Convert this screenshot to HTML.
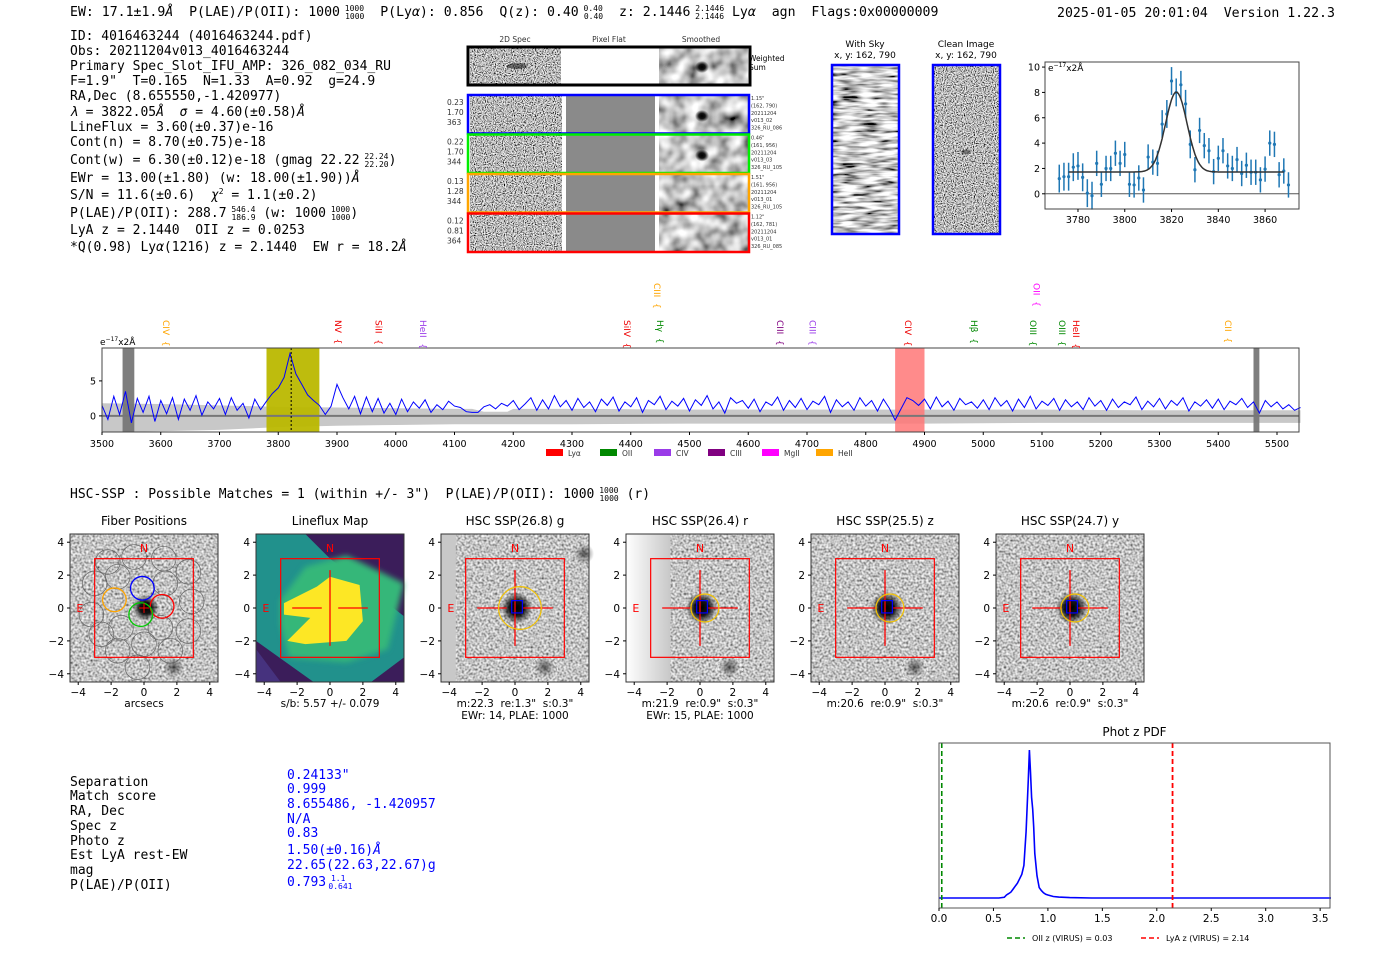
<!DOCTYPE html>
<html><head><meta charset="utf-8"><title>Detection report</title>
<style>
html,body{margin:0;padding:0;background:#fff;}
svg{display:block;}
text{white-space:pre;}
.mono{font-family:"DejaVu Sans Mono","Liberation Mono",monospace;}
.sans{font-family:"DejaVu Sans","Liberation Sans",sans-serif;}
</style></head>
<body>
<svg id="root" xmlns="http://www.w3.org/2000/svg" xml:space="preserve" width="1400" height="953" viewBox="0 0 1400 953">
<defs>
<filter id="nz" x="0" y="0" width="100%" height="100%"><feTurbulence type="fractalNoise" baseFrequency="0.9" numOctaves="1" seed="3"/><feColorMatrix type="matrix" values="2.6 0 0 0 -0.8  2.6 0 0 0 -0.8  2.6 0 0 0 -0.8  0 0 0 0 1"/></filter>
<filter id="nzl" x="0" y="0" width="100%" height="100%"><feTurbulence type="fractalNoise" baseFrequency="0.45" numOctaves="1" seed="7"/><feColorMatrix type="matrix" values="1.5 0 0 0 -0.2  1.5 0 0 0 -0.2  1.5 0 0 0 -0.2  0 0 0 0 1"/></filter>
<filter id="nzs" x="0" y="0" width="100%" height="100%"><feTurbulence type="fractalNoise" baseFrequency="0.07" numOctaves="2" seed="5"/><feColorMatrix type="matrix" values="1.6 0 0 0 -0.25  1.6 0 0 0 -0.25  1.6 0 0 0 -0.25  0 0 0 0 1"/></filter>
<filter id="nzsky" x="0" y="0" width="100%" height="100%"><feTurbulence type="fractalNoise" baseFrequency="0.05 0.3" numOctaves="2" seed="2"/><feColorMatrix type="matrix" values="2.4 0 0 0 -0.6  2.4 0 0 0 -0.6  2.4 0 0 0 -0.6  0 0 0 0 1"/></filter>
<filter id="blur3"><feGaussianBlur stdDeviation="3"/></filter>
<radialGradient id="blob"><stop offset="0" stop-color="#000"/><stop offset="0.45" stop-color="#000" stop-opacity="0.9"/><stop offset="1" stop-color="#000" stop-opacity="0"/></radialGradient>
<radialGradient id="blobs"><stop offset="0" stop-color="#222" stop-opacity="0.7"/><stop offset="1" stop-color="#222" stop-opacity="0"/></radialGradient>
<linearGradient id="edgeg" x1="0" x2="1"><stop offset="0" stop-color="#fff"/><stop offset="1" stop-color="#c8c8c8"/></linearGradient>
</defs>

<!-- Header -->
<text class="mono" x="70" y="16" font-size="13.2">EW: 17.1±1.9<tspan font-style="italic">Å</tspan>  P(LAE)/P(OII): 1000<tspan font-size="8" dy="-5"> 1000</tspan><tspan font-size="8" dx="-19" dy="8">1000</tspan><tspan dy="-3">  P(Ly</tspan><tspan font-style="italic">α</tspan>): 0.856  Q(z): 0.40<tspan font-size="8" dy="-5"> 0.40</tspan><tspan font-size="8" dx="-19" dy="8">0.40</tspan><tspan dy="-3">  z: 2.1446</tspan><tspan font-size="8" dy="-5"> 2.1446</tspan><tspan font-size="8" dx="-29" dy="8">2.1446</tspan><tspan dy="-3"> Ly</tspan><tspan font-style="italic">α</tspan>  agn  Flags:0x00000009</text>
<text class="mono" x="1057" y="17" font-size="13.2">2025-01-05 20:01:04  Version 1.22.3</text>

<!-- Left info block -->
<g class="mono" font-size="13">
<text x="70" y="40">ID: 4016463244 (4016463244.pdf)</text>
<text x="70" y="55">Obs: 20211204v013_4016463244</text>
<text x="70" y="70">Primary Spec_Slot_IFU_AMP: 326_082_034_RU</text>
<text x="70" y="85">F=1.9"  T=0.165  N=1.33  A=0.92  g=24.9</text>
<text x="70" y="100">RA,Dec (8.655550,-1.420977)</text>
<text x="70" y="116"><tspan font-style="italic">λ</tspan> = 3822.05<tspan font-style="italic">Å</tspan>  <tspan font-style="italic">σ</tspan> = 4.60(±0.58)<tspan font-style="italic">Å</tspan></text>
<text x="70" y="131">LineFlux = 3.60(±0.37)e-16</text>
<text x="70" y="146">Cont(n) = 8.70(±0.75)e-18</text>
<text x="70" y="164">Cont(w) = 6.30(±0.12)e-18 (gmag 22.22<tspan font-size="8" dy="-5"> 22.24</tspan><tspan font-size="8" dx="-24" dy="8">22.20</tspan><tspan dy="-3">)</tspan></text>
<text x="70" y="182">EWr = 13.00(±1.80) (w: 18.00(±1.90))<tspan font-style="italic">Å</tspan></text>
<text x="70" y="199">S/N = 11.6(±0.6)  <tspan font-style="italic">χ</tspan><tspan font-size="8" dy="-5">2</tspan><tspan dy="5"> = 1.1(±0.2)</tspan></text>
<text x="70" y="217">P(LAE)/P(OII): 288.7<tspan font-size="8" dy="-5"> 546.4</tspan><tspan font-size="8" dx="-24" dy="8">186.9</tspan><tspan dy="-3"> (w: 1000</tspan><tspan font-size="8" dy="-5"> 1000</tspan><tspan font-size="8" dx="-19" dy="8">1000</tspan><tspan dy="-3">)</tspan></text>
<text x="70" y="234">LyA z = 2.1440  OII z = 0.0253</text>
<text x="70" y="251">*Q(0.98) Ly<tspan font-style="italic">α</tspan>(1216) z = 2.1440  EW r = 18.2<tspan font-style="italic">Å</tspan></text>
</g>

<!-- 2D spectra -->
<g id="spec2d" class="sans">
<text x="515" y="42" font-size="7.5" text-anchor="middle" fill="#333">2D Spec</text>
<text x="609" y="42" font-size="7.5" text-anchor="middle" fill="#333">Pixel Flat</text>
<text x="701" y="42" font-size="7.5" text-anchor="middle" fill="#333">Smoothed</text>
<rect x="470" y="48" width="91" height="36" filter="url(#nz)"/>
<rect x="659" y="48" width="89" height="36" filter="url(#nzs)"/>
<ellipse cx="517" cy="66" rx="10" ry="3" fill="#000" opacity="0.5"/>
<ellipse cx="702" cy="67" rx="7" ry="6" fill="url(#blob)"/>
<rect x="468" y="47" width="282" height="38" fill="none" stroke="#000" stroke-width="3"/>
<text x="749" y="61" font-size="7.5">Weighted</text><text x="749" y="70" font-size="7.5">Sum</text>
</g>

<!-- Sky / clean -->
<g class="sans">
<text x="865" y="47" font-size="9" text-anchor="middle">With Sky</text>
<text x="865" y="58" font-size="9" text-anchor="middle">x, y: 162, 790</text>
<rect x="833" y="66" width="66" height="167" filter="url(#nzsky)"/>
<rect x="832" y="65" width="67" height="169" fill="none" stroke="#00f" stroke-width="2.5"/>
<text x="966" y="47" font-size="9" text-anchor="middle">Clean Image</text>
<text x="966" y="58" font-size="9" text-anchor="middle">x, y: 162, 790</text>
<rect x="934" y="66" width="66" height="167" filter="url(#nz)"/>
<ellipse cx="966" cy="152" rx="5" ry="2.5" fill="#000" opacity="0.4"/>
<rect x="933" y="65" width="67" height="169" fill="none" stroke="#00f" stroke-width="2.5"/>
</g>

<g id="gfit"></g>
<g id="spec"></g>

<text class="mono" x="70" y="498" font-size="13">HSC-SSP : Possible Matches = 1 (within +/- 3")  P(LAE)/P(OII): 1000<tspan font-size="8" dy="-5"> 1000</tspan><tspan font-size="8" dx="-19" dy="8">1000</tspan><tspan dy="-3"> (r)</tspan></text>

<g id="cutouts"></g>

<!-- Bottom table -->
<g class="mono" font-size="13">
<text x="70" y="786">Separation</text><text x="70" y="800">Match score</text><text x="70" y="815">RA, Dec</text><text x="70" y="830">Spec z</text><text x="70" y="845">Photo z</text><text x="70" y="859">Est LyA rest-EW</text><text x="70" y="874">mag</text><text x="70" y="889">P(LAE)/P(OII)</text>
<g fill="#00f">
<text x="287" y="779">0.24133"</text><text x="287" y="793">0.999</text><text x="287" y="808">8.655486, -1.420957</text><text x="287" y="823">N/A</text><text x="287" y="837">0.83</text><text x="287" y="854">1.50(±0.16)<tspan font-style="italic">Å</tspan></text><text x="287" y="869">22.65(22.63,22.67)g</text><text x="287" y="886">0.793<tspan font-size="8" dy="-5"> 1.1</tspan><tspan font-size="8" dx="-17" dy="8">0.641</tspan></text>
</g></g>

<g id="pdf"></g>

<script>
// ---------- data ----------
const fitWave=[3772,3774,3776,3778,3780,3782,3784,3786,3788,3790,3792,3794,3796,3798,3800,3802,3804,3806,3808,3810,3812,3814,3816,3818,3820,3822,3824,3826,3828,3830,3832,3834,3836,3838,3840,3842,3844,3846,3848,3850,3852,3854,3856,3858,3860,3862,3864,3866,3868,3870];
const fitFlux=[1.2,1.35,1.35,2.1,2.2,1.3,0.05,-0.15,2.4,0.75,2.0,2.0,3.2,2.4,3.1,0.75,0.7,1.25,0.3,2.9,2.5,2.4,5.5,6.3,8.9,8.0,8.6,7.1,3.9,1.9,5.0,3.8,3.4,1.75,2.8,3.4,2.2,2.0,2.7,1.6,2.25,1.7,1.7,1.1,1.95,4.0,3.9,1.5,1.8,0.7];
const fitErr=[1.1,1.1,1.1,1.1,1.1,1.1,1.1,1.1,1.0,1.0,1.0,1.0,1.0,1.0,1.0,1.0,1.0,1.0,1.0,1.0,1.0,1.0,1.1,1.1,1.1,1.1,1.1,1.1,1.1,1.0,1.0,1.0,1.0,1.0,1.0,1.0,1.0,1.0,1.0,1.0,1.0,1.0,1.0,1.0,1.0,1.0,1.0,1.0,1.0,1.0];
const fitParams=[3822.05,4.6,6.3,1.72]; // mu, sigma, amplitude, continuum
const fitTicksX=[3780,3800,3820,3840,3860];
const fitTicksY=[0,2,4,6,8,10];

const specStart=3500, specStep=10;
const specFlux=[1.5,-0.5,2.8,0.2,3.5,-1,2.5,0.5,2.8,-0.8,
2.2,0.3,2.6,-0.5,2.4,0.8,2.9,0.1,2.0,1.0,
2.5,0.2,2.6,0.8,1.8,-0.3,2.4,0.9,2.1,3.2,
4.0,5.5,8.9,6.0,4.5,3.0,2.2,1.5,0.2,1.4,
4.5,2.6,1.0,2.8,0.3,2.7,0.6,2.5,0.4,1.8,
0.2,2.4,0.6,2.0,1.1,2.3,0.5,1.6,0.9,2.1,
1.4,1.2,0.6,0.5,0.5,1.3,1.6,1.0,1.8,1.4,
2.2,0.9,1.7,2.6,0.8,2.3,1.0,2.9,1.3,2.2,
0.8,2.5,1.2,2.0,0.6,2.4,1.5,2.7,0.7,2.0,
1.3,2.6,0.5,2.2,1.6,2.8,0.9,2.1,1.4,2.5,
0.7,2.3,1.5,2.9,1.0,2.0,0.4,2.6,1.8,2.2,
1.1,2.4,0.6,2.0,1.5,2.7,0.8,2.2,1.2,2.5,
0.9,2.1,1.6,2.8,0.5,2.3,1.3,2.0,0.8,2.6,
1.4,2.2,0.7,2.4,1.1,-0.6,1.0,2.6,2.2,1.5,
2.4,1.0,2.7,1.3,2.1,0.8,2.5,1.6,2.0,1.1,
2.3,0.9,2.6,1.4,2.2,0.7,2.4,1.2,2.8,1.0,
2.1,1.5,2.5,0.8,2.3,1.3,2.0,0.9,2.6,1.4,
2.2,0.8,2.4,1.2,2.0,1.6,2.7,0.9,2.1,1.3,
2.5,1.0,2.2,1.5,2.6,0.7,2.0,1.4,2.3,1.1,
2.4,0.9,2.1,1.6,2.5,1.2,2.0,0.4,2.2,1.3,
2.0,1.0,1.6,0.8,1.2];
const errWave=[3500,3600,3700,3800,3900,4000,4100,4130,4150,4190,4200,4300,4500,4700,4900,5100,5300,5500,5540];
const errHi=[1.8,1.7,1.5,1.3,1.2,1.1,1.0,1.0,0.6,0.6,1.0,1.0,0.9,0.9,0.9,0.9,0.8,0.8,0.8];
const errLo=[-2.3,-2.2,-2.0,-1.6,-1.4,-1.3,-1.2,-1.2,-1.2,-1.2,-1.2,-1.2,-1.1,-1.1,-1.1,-1.0,-1.0,-1.0,-1.0];
const specTicksX=[3500,3600,3700,3800,3900,4000,4100,4200,4300,4400,4500,4600,4700,4800,4900,5000,5100,5200,5300,5400,5500];
const specTicksY=[0,5];
const lineNames=["CIV","NV","SiII","HeII","SiIV","CIII","Hγ","CIII","CIII","CIV","Hβ","OIII","OII","OIII","HeII","CII"];
const lineWave=[3609,3902,3971,4046,4394,4445,4450,4654,4709,4872,4984,5085,5091,5134,5158,5417];
const lineColor=["#ffa500","#e00","#e00","#9a3be8","#e00","#ffa500","#080","#800080","#9a3be8","#e00","#080","#080","#f0f","#080","#e00","#ffa500"];
const lineHigh=[0,0,0,0,0,1,0,0,0,0,0,0,1,0,0,0];
const bandStart=[3535,3780,4850,5460];
const bandEnd=[3555,3870,4900,5470];
const bandColor=["#777","#bbb800","#f77","#777"];
const legendNames=["Lyα","OII","CIV","CIII","MgII","HeII"];
const legendColors=["#f00","#080","#9a3be8","#800080","#f0f","#ffa500"];

const pdfZ=[0,0.55,0.6,0.62,0.64,0.66,0.68,0.70,0.72,0.74,0.76,0.78,0.80,0.82,0.83,0.84,0.85,0.86,0.87,0.88,0.90,0.92,0.94,0.96,0.98,1.0,1.05,1.1,1.2,1.4,3.6];
const pdfP=[0,0,0.005,0.02,0.03,0.04,0.06,0.08,0.10,0.13,0.16,0.22,0.45,0.80,1.0,0.85,0.68,0.60,0.48,0.30,0.15,0.07,0.05,0.035,0.025,0.02,0.01,0.006,0.003,0,0];
const pdfTicks=[0.0,0.5,1.0,1.5,2.0,2.5,3.0,3.5];
const oiiZ=0.0253, lyaZ=2.1446;

const panelTitles=["Fiber Positions","Lineflux Map","HSC SSP(26.8) g","HSC SSP(26.4) r","HSC SSP(25.5) z","HSC SSP(24.7) y"];
const panelCaps1=["arcsecs","s/b: 5.57 +/- 0.079","m:22.3  re:1.3\"  s:0.3\"","m:21.9  re:0.9\"  s:0.3\"","m:20.6  re:0.9\"  s:0.3\"","m:20.6  re:0.9\"  s:0.3\""];
const panelCaps2=["","","EWr: 14, PLAE: 1000","EWr: 15, PLAE: 1000","",""];
const panelTicks=[-4,-2,0,2,4];

// ---------- helpers ----------
const NS="http://www.w3.org/2000/svg";
function mk(parent,tag,attrs,txt){const e=document.createElementNS(NS,tag);for(const k in attrs)e.setAttribute(k,attrs[k]);if(txt!==undefined)e.textContent=txt;parent.appendChild(e);return e;}
const F='"DejaVu Sans","Liberation Sans",sans-serif';

// ---------- 2D spectra rows ----------
(function(){
 const g=document.getElementById('spec2d');
 const rowY=[95,134.5,174,213.5], rowC=["#00f","#0e0","#ffa500","#f00"];
 const lab=[["0.23","1.70","363"],["0.22","1.70","344"],["0.13","1.28","344"],["0.12","0.81","364"]];
 const info=[["1.15\"","(162, 790)","20211204","v013_02","326_RU_086"],["0.46\"","(161, 956)","20211204","v013_03","326_RU_105"],["1.51\"","(161, 956)","20211204","v013_01","326_RU_105"],["1.12\"","(162, 781)","20211204","v013_01","326_RU_085"]];
 rowY.forEach((y,i)=>{
  mk(g,'rect',{x:470,y:y+1,width:92,height:37,filter:'url(#nz)'});
  mk(g,'rect',{x:566,y:y+1,width:89,height:37,fill:'#8a8a8a'});
  mk(g,'rect',{x:659,y:y+1,width:89,height:37,filter:'url(#nzs)'});
  if(i<2){mk(g,'ellipse',{cx:702,cy:y+21,rx:7,ry:6,fill:'url(#blob)'});}
  const r=mk(g,'rect',{x:468,y:y,width:281,height:38.5,fill:'none',stroke:rowC[i],'stroke-width':2.5});
  
  
  lab[i].forEach((t,j)=>mk(g,'text',{x:447,y:y+10+j*10,'font-size':7.5,fill:'#333','font-family':F},t));
  info[i].forEach((t,j)=>mk(g,'text',{x:751,y:y+5+j*7.4,'font-size':5,fill:'#333','font-family':F},t));
 });
})();

// ---------- Gaussian fit chart ----------
(function(){
 const g=document.getElementById('gfit');
 const L=1045,R=1299,T=62,B=209,x0=3765.9,x1=3874.5,y0=-1.2,y1=10.4;
 const X=v=>L+(v-x0)/(x1-x0)*(R-L), Y=v=>B-(v-y0)/(y1-y0)*(B-T);
 mk(g,'line',{x1:L,x2:R,y1:Y(0),y2:Y(0),stroke:'#555','stroke-width':1});
 fitWave.forEach((w,i)=>{
  const e=mk(g,'line',{x1:X(w),x2:X(w),y1:Y(fitFlux[i]-fitErr[i]),y2:Y(fitFlux[i]+fitErr[i]),stroke:'#1f77b4','stroke-width':1.5});
  
  
  const p=mk(g,'circle',{cx:X(w),cy:Y(fitFlux[i]),r:1.6,fill:'#1f77b4'});
  
  
 });
 let d='';
 for(let w=3776;w<=3868;w+=0.5){const v=fitParams[3]+fitParams[2]*Math.exp(-Math.pow(w-fitParams[0],2)/(2*fitParams[1]*fitParams[1]));d+=(d?'L':'M')+X(w).toFixed(1)+','+Y(v).toFixed(1);}
 const c=mk(g,'path',{d:d,fill:'none',stroke:'#333','stroke-width':1.5});
 
 
 mk(g,'rect',{x:L,y:T,width:R-L,height:B-T,fill:'none',stroke:'#444','stroke-width':1});
 fitTicksX.forEach(t=>{mk(g,'line',{x1:X(t),x2:X(t),y1:B,y2:B+3,stroke:'#000'});mk(g,'text',{x:X(t),y:B+14,'font-size':9.5,'text-anchor':'middle','font-family':F},t);});
 fitTicksY.forEach(t=>{mk(g,'line',{x1:L-3,x2:L,y1:Y(t),y2:Y(t),stroke:'#000'});mk(g,'text',{x:L-5,y:Y(t)+3.5,'font-size':9.5,'text-anchor':'end','font-family':F},t);});
 const u=mk(g,'text',{x:L+3,y:T+9,'font-size':9,'font-family':F},'e');
 mk(u,'tspan',{'font-size':6,dy:-4},'−17');mk(u,'tspan',{dy:4},'x2Å');
})();

// ---------- full spectrum ----------
(function(){
 const g=document.getElementById('spec');
 const L=102,R=1299,T=348,B=432,x0=3500,x1=3500+(R-L)/0.5875,y0=-2.3,y1=9.7;
 const X=v=>L+(v-x0)/(x1-x0)*(R-L), Y=v=>B-(v-y0)/(y1-y0)*(B-T);
 mk(g,'rect',{x:L,y:T,width:R-L,height:B-T,fill:'#fff'});
 let up='',lo='';
 errWave.forEach((w,i)=>{up+=(i?'L':'M')+X(w).toFixed(1)+','+Y(errHi[i]).toFixed(1);});
 for(let i=errWave.length-1;i>=0;i--)lo+='L'+X(errWave[i]).toFixed(1)+','+Y(errLo[i]).toFixed(1);
 const band=mk(g,'path',{d:up+lo+'Z',fill:'#c8c8c8'});
 
 
 bandStart.forEach((s,i)=>{const r=mk(g,'rect',{x:X(s),y:T,width:X(bandEnd[i])-X(s),height:B-T,fill:bandColor[i],opacity:i===2?0.85:0.95});
  
  });
 mk(g,'line',{x1:L,x2:R,y1:Y(0),y2:Y(0),stroke:'#777','stroke-width':2});
 let d='';
 specFlux.forEach((v,i)=>{const w=specStart+i*specStep;d+=(i?'L':'M')+X(w).toFixed(1)+','+Y(v).toFixed(1);});
 const ln=mk(g,'path',{d:d,fill:'none',stroke:'#0000ff','stroke-width':1});
 
 
 mk(g,'line',{x1:X(3822),x2:X(3822),y1:T,y2:B,stroke:'#000','stroke-dasharray':'2,2','stroke-width':1});
 mk(g,'rect',{x:L,y:T,width:R-L,height:B-T,fill:'none',stroke:'#444','stroke-width':1});
 specTicksX.forEach(t=>{mk(g,'line',{x1:X(t),x2:X(t),y1:B,y2:B+3,stroke:'#000'});mk(g,'text',{x:X(t),y:B+15,'font-size':9.5,'text-anchor':'middle','font-family':F},t);});
 specTicksY.forEach(t=>{mk(g,'line',{x1:L-3,x2:L,y1:Y(t),y2:Y(t),stroke:'#000'});mk(g,'text',{x:L-6,y:Y(t)+3.5,'font-size':9.5,'text-anchor':'end','font-family':F},t);});
 const u=mk(g,'text',{x:L-2,y:T-3,'font-size':9,'font-family':F},'e');
 mk(u,'tspan',{'font-size':6,dy:-4},'−17');mk(u,'tspan',{dy:4},'x2Å');
 lineNames.forEach((n,i)=>{const x=X(lineWave[i]),y=lineHigh[i]?283:320;
  const t=mk(g,'text',{x:0,y:0,'font-size':9,fill:lineColor[i],'font-family':F,transform:'translate('+(x-3)+','+y+') rotate(90)'},n+'  {');
  
  });
 legendNames.forEach((n,i)=>{const x=546+i*54;
  const r=mk(g,'rect',{x:x,y:449,width:17,height:7,fill:legendColors[i]});
  
  
  mk(g,'text',{x:x+22,y:456,'font-size':7.5,fill:'#333','font-family':F},n);});
})();

// ---------- cutouts ----------
(function(){
 const g=document.getElementById('cutouts');
 const PX=[70,256,441,626,811,996],T=534,S=148;
 PX.forEach((px,i)=>{
  const X=v=>px+S/2+v*S/9, Y=v=>T+S/2-v*S/9;
  const p=mk(g,'g',{});
  
  
  mk(p,'text',{x:px+S/2,y:T-9,'font-size':12,'text-anchor':'middle','font-family':F},panelTitles[i]);
  if(i===1){
   mk(p,'rect',{x:px,y:T,width:S,height:S,fill:'#3b1d5a'});
   mk(p,'polygon',{points:[[X(-4.5),Y(4.5)],[X(-1.5),Y(4.5)],[X(0),Y(3)],[X(4.5),Y(-0.5)],[X(4.5),Y(-3)],[X(2.5),Y(-4.5)],[X(-1),Y(-4.5)],[X(-4.5),Y(-2)]].join(' '),fill:'#21918c'});
   mk(p,'polygon',{points:[[X(-3),Y(0.5)],[X(-1.5),Y(2.5)],[X(1),Y(3.2)],[X(4.5),Y(1.5)],[X(3.5),Y(-2.5)],[X(1),Y(-3.3)],[X(-2.5),Y(-3)],[X(-3),Y(-1)]].join(' '),fill:'#35b779',filter:'url(#blur3)'});
   mk(p,'polygon',{points:[[X(-2.8),Y(0.3)],[X(-0.8),Y(1.3)],[X(0),Y(1.9)],[X(1.8),Y(1.4)],[X(2),Y(-0.8)],[X(1),Y(-2)],[X(-1.5),Y(-2.2)],[X(-2.6),Y(-2)],[X(-1.2),Y(-0.6)],[X(-2.8),Y(-0.4)]].join(' '),fill:'#fde725'});
   mk(p,'polygon',{points:[[X(-4.5),Y(-2.5)],[X(-3),Y(-4.5)],[X(-4.5),Y(-4.5)]].join(' '),fill:'#46327e'});
  } else {
   mk(p,'rect',{x:px,y:T,width:S,height:S,filter:'url(#nzl)'});
   if(i===2)mk(p,'rect',{x:px,y:T,width:X(-3.6)-px,height:S,fill:'#c8c8c8'});
   if(i===3)mk(p,'rect',{x:px,y:T,width:X(-1.8)-px,height:S,fill:'url(#edgeg)'});
   mk(p,'circle',{cx:X(0.1),cy:Y(0),r:i===0?13:16,fill:'url(#blob)'});
   if(i!==5)mk(p,'circle',{cx:X(1.8),cy:Y(-3.6),r:10,fill:'url(#blobs)'});
   if(i===2)mk(p,'circle',{cx:X(4.2),cy:Y(3.3),r:10,fill:'url(#blobs)'});
   if(i>=2&&i<=4){mk(p,'circle',{cx:X(1.8),cy:Y(-3.7),r:13,fill:'none',stroke:'#eee','stroke-dasharray':'2,2'});}
  }
  if(i===0){
   const fib=[[-3,1.5],[-2.2,2.8],[-0.6,3.1],[1.2,3],[2.7,2.2],[-3.2,-0.4],[-2.6,-1.6],[-1.6,-2.6],[0,-2.2],[1.6,-2.6],[2.7,-1.4],[2.9,0.4],[-0.4,-3.6],[1,-1.2],[-1.4,-1.2],[1.3,1.5],[-1.6,1.9]];
   fib.forEach(f=>mk(p,'circle',{cx:X(f[0]),cy:Y(f[1]),r:S/9*0.75,fill:'none',stroke:'#666','stroke-width':0.7}));
   [[ -0.1,1.2,'#00f'],[-1.8,0.5,'#ffa500'],[1.1,0.1,'#f00'],[-0.2,-0.4,'#0c0']].forEach(f=>mk(p,'circle',{cx:X(f[0]),cy:Y(f[1]),r:S/9*0.72,fill:'none',stroke:f[2],'stroke-width':1.3}));
   mk(p,'path',{d:`M${X(-0.3)},${Y(0)}H${X(0.3)}M${X(0)},${Y(0.3)}V${Y(-0.3)}`,stroke:'#f00','stroke-width':1});
  } else {
   mk(p,'path',{d:`M${X(-2.3)},${Y(0)}H${X(-0.5)}M${X(0.5)},${Y(0)}H${X(2.3)}M${X(0)},${Y(2.3)}V${Y(-2.3)}`,stroke:'#f00','stroke-width':1.3});
   if(i>=2){mk(p,'rect',{x:X(-0.2),y:Y(0.45),width:S/9*0.65,height:S/9*0.75,fill:'none',stroke:'#00f','stroke-width':1.2});
    mk(p,'circle',{cx:X(0.3),cy:Y(0),r:i===2?S/9*1.3:S/9*0.85,fill:'none',stroke:'#f5c400','stroke-width':1.2});}
  }
  mk(p,'rect',{x:X(-3),y:Y(3),width:S*6/9,height:S*6/9,fill:'none',stroke:'#f00','stroke-width':1.2});
  mk(p,'text',{x:X(0),y:Y(3.7)+5,'font-size':11,fill:'#f00','text-anchor':'middle','font-family':F},'N');
  mk(p,'text',{x:X(-3.9),y:Y(0)+4,'font-size':11,fill:'#f00','text-anchor':'middle','font-family':F},'E');
  mk(p,'rect',{x:px,y:T,width:S,height:S,fill:'none',stroke:'#333','stroke-width':1});
  panelTicks.forEach(t=>{
   mk(p,'line',{x1:X(t),x2:X(t),y1:T+S,y2:T+S+3,stroke:'#000'});
   mk(p,'text',{x:X(t),y:T+S+14,'font-size':10.5,'text-anchor':'middle','font-family':F},t<0?'−'+(-t):t);
   mk(p,'line',{x1:px-3,x2:px,y1:Y(t),y2:Y(t),stroke:'#000'});
   mk(p,'text',{x:px-6,y:Y(t)+4,'font-size':10.5,'text-anchor':'end','font-family':F},t<0?'−'+(-t):t);
  });
  mk(p,'text',{x:px+S/2,y:T+S+25,'font-size':10.5,'text-anchor':'middle','font-family':F},panelCaps1[i]);
  if(panelCaps2[i])mk(p,'text',{x:px+S/2,y:T+S+37,'font-size':10.5,'text-anchor':'middle','font-family':F},panelCaps2[i]);
 });
})();

// ---------- photo-z PDF ----------
(function(){
 const g=document.getElementById('pdf');
 const L=939,R=1330,T=743,B=908,x0=0,x1=(R-L)/108.9,base=898,top=750;
 const X=v=>L+(v-x0)/(x1-x0)*(R-L), Y=v=>base-v*(base-top);
 mk(g,'text',{x:(L+R)/2,y:T-7,'font-size':12,'text-anchor':'middle','font-family':F},'Phot z PDF');
 let d='';
 pdfZ.forEach((z,i)=>{d+=(i?'L':'M')+X(z).toFixed(1)+','+Y(pdfP[i]).toFixed(1);});
 const ln=mk(g,'path',{d:d,fill:'none',stroke:'#0000ff','stroke-width':1.6});
 
 
 const o=mk(g,'line',{x1:X(oiiZ),x2:X(oiiZ),y1:T,y2:B,stroke:'#080','stroke-width':1.6,'stroke-dasharray':'5,3'});
 
 
 const l=mk(g,'line',{x1:X(lyaZ),x2:X(lyaZ),y1:T,y2:B,stroke:'#f00','stroke-width':1.8,'stroke-dasharray':'5,3'});
 
 
 mk(g,'rect',{x:L,y:T,width:R-L,height:B-T,fill:'none',stroke:'#555','stroke-width':1});
 pdfTicks.forEach(t=>{mk(g,'line',{x1:X(t),x2:X(t),y1:B,y2:B+3,stroke:'#000'});mk(g,'text',{x:X(t),y:B+14,'font-size':10.5,'text-anchor':'middle','font-family':F},t.toFixed(1));});
 mk(g,'line',{x1:1007,x2:1025,y1:938,y2:938,stroke:'#080','stroke-width':1.6,'stroke-dasharray':'5,3'});
 mk(g,'text',{x:1032,y:941,'font-size':8,'font-family':F},'OII z (VIRUS) = 0.03');
 mk(g,'line',{x1:1141,x2:1159,y1:938,y2:938,stroke:'#f00','stroke-width':1.6,'stroke-dasharray':'5,3'});
 mk(g,'text',{x:1166,y:941,'font-size':8,'font-family':F},'LyA z (VIRUS) = 2.14');
})();
</script>
</svg>
</body></html>
